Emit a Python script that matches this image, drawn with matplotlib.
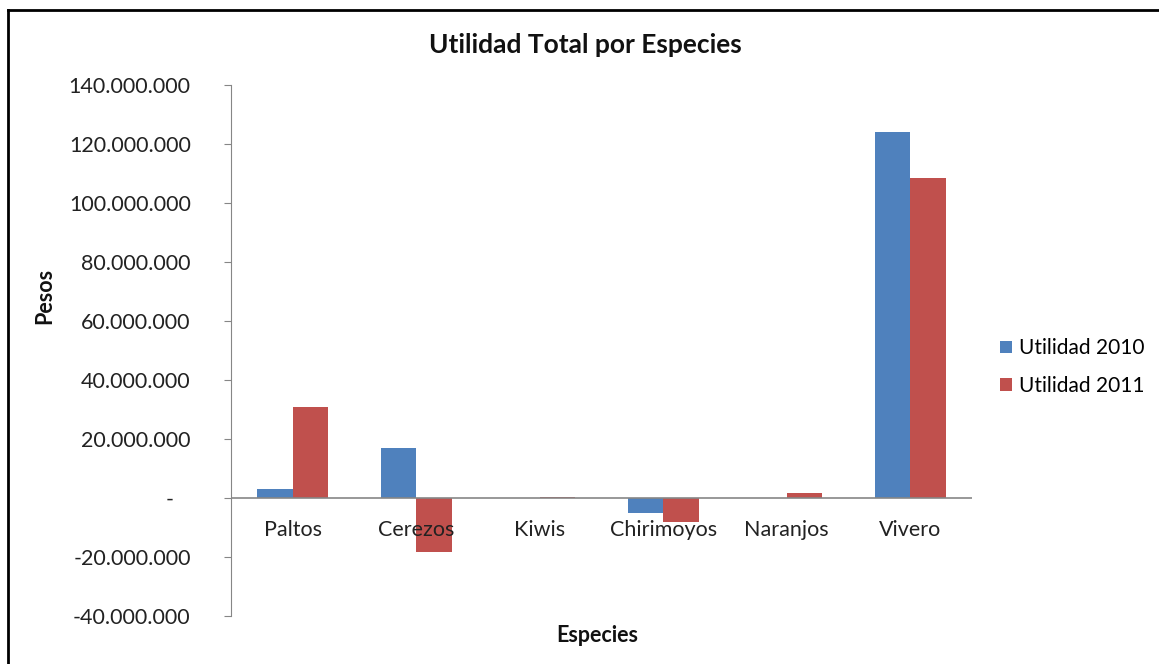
import matplotlib.pyplot as plt
from matplotlib.ticker import FuncFormatter
import numpy as np

especies = ['Paltos', 'Cerezos', 'Kiwis', 'Chirimoyos', 'Naranjos', 'Vivero']
utilidad_2010 = [2900000, 16800000, 0, -5200000, 0, 124000000]
utilidad_2011 = [30800000, -18400000, 450000, -8200000, 1800000, 108500000]

plt.rcParams['font.family'] = ['Lato', 'DejaVu Sans']

fig = plt.figure(figsize=(11.59, 6.64), dpi=100)
ax = fig.add_axes([0.1993, 0.0723, 0.6394, 0.7997])

x = np.arange(len(especies))
w = 0.286
ax.bar(x - w / 2, utilidad_2010, w, color='#4F81BD', label='Utilidad 2010')
ax.bar(x + w / 2, utilidad_2011, w, color='#C0504D', label='Utilidad 2011')

ax.set_xlim(-0.5, len(especies) - 0.5)
ax.set_ylim(-40000000, 140000000)
ax.set_yticks(np.arange(-40000000, 140000001, 20000000))


def fmt(v, pos):
    if v == 0:
        return '-   '
    return f'{v:,.0f}'.replace(',', '.')


ax.yaxis.set_major_formatter(FuncFormatter(fmt))
ax.tick_params(axis='y', length=5, color='#868686', pad=24, labelsize=15.5, labelcolor='#222222')
ax.set_xticks([])
for xi, name in zip(x, especies):
    ax.text(xi, -11000000, name, ha='center', va='center', fontsize=15.5, color='#222222')

for s in ['top', 'right', 'bottom']:
    ax.spines[s].set_visible(False)
ax.spines['left'].set_color('#868686')
ax.axhline(0, color='#868686', lw=1.2, zorder=3)

fig.text(0.5052, 0.932, 'Utilidad Total por Especies', ha='center', va='center',
         fontsize=19, fontweight='bold', color='#111111')
fig.text(0.039, 0.555, 'Pesos', ha='center', va='center', rotation=90,
         fontsize=15.5, fontweight='bold', color='#111111')
fig.text(0.5155, 0.043, 'Especies', ha='center', va='center',
         fontsize=15.5, fontweight='bold', color='#111111')

ax.legend(loc='center left', bbox_to_anchor=(0.847, 0.447), bbox_transform=fig.transFigure,
          frameon=False, fontsize=15, handlelength=0.55, handleheight=0.55,
          handletextpad=0.35, labelspacing=0.85)

# marco
fig.add_artist(plt.Line2D([0.0065, 0.0065], [0, 0.985], color='black', lw=2, transform=fig.transFigure))
fig.add_artist(plt.Line2D([0.0065, 1], [0.985, 0.985], color='black', lw=2, transform=fig.transFigure))

fig.savefig('out.png', dpi=100)
